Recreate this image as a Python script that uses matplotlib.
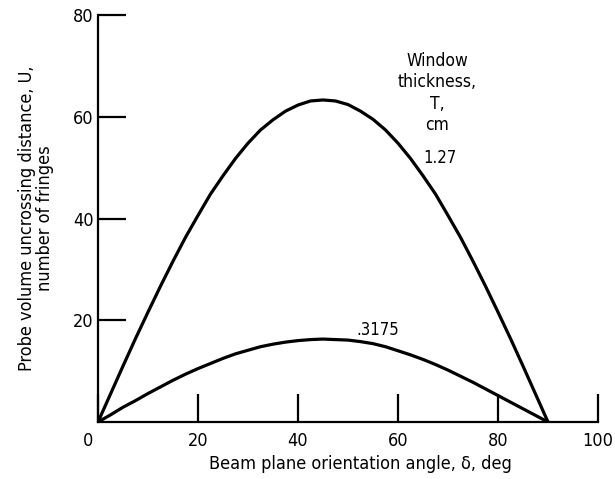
import matplotlib.pyplot as plt
import matplotlib.transforms as mtransforms

# beam plane orientation angle, deg
angle = [0, 2.5, 5, 7.5, 10, 12.5, 15, 17.5, 20, 22.5, 25, 27.5, 30, 32.5, 35, 37.5, 40, 42.5,
         45, 47.5, 50, 52.5, 55, 57.5, 60, 62.5, 65, 67.5, 70, 72.5, 75, 77.5, 80, 82.5, 85, 87.5, 90]
# window thickness 1.27 cm
u_127 = [0, 5.5, 11.0, 16.4, 21.6, 26.7, 31.6, 36.3, 40.6, 44.8, 48.4, 51.8, 54.8, 57.4, 59.4, 61.1, 62.3, 63.1,
         63.3, 63.1, 62.4, 61.1, 59.5, 57.4, 54.8, 51.8, 48.4, 44.8, 40.6, 36.3, 31.6, 26.7, 21.6, 16.4, 11.0, 5.5, 0]
# window thickness .3175 cm
u_3175 = [0, 1.4, 2.9, 4.2, 5.6, 6.9, 8.2, 9.4, 10.5, 11.5, 12.5, 13.4, 14.1, 14.8, 15.3, 15.7, 16.0, 16.2,
          16.3, 16.2, 16.1, 15.8, 15.4, 14.8, 14.0, 13.2, 12.3, 11.3, 10.2, 9.0, 7.8, 6.5, 5.2, 3.9, 2.6, 1.3, 0]

xticks = [0, 20, 40, 60, 80, 100]
yticks = [20, 40, 60, 80]

plt.rcParams['font.family'] = ['DejaVu Sans']
plt.rcParams['font.stretch'] = 'condensed'

fig = plt.figure(figsize=(6.15, 4.79), dpi=100)
ax = fig.add_axes([98/615, 1-422/479, 500/615, 407/479])

ax.plot(angle, u_127, color='black', lw=2.3)
ax.plot(angle, u_3175, color='black', lw=2.3)

ax.set_xlim(0, 100)
ax.set_ylim(0, 80)
ax.set_xticks(xticks)
ax.set_yticks(yticks)
ax.spines['top'].set_visible(False)
ax.spines['right'].set_visible(False)
for s in ['left', 'bottom']:
    ax.spines[s].set_linewidth(1.6)
ax.tick_params(direction='in', length=20, width=1.6, labelsize=13)
ax.tick_params(axis='x', pad=7)
ax.tick_params(axis='y', pad=3)

# the corner "0" sits a little left of the spine
lbl0 = ax.get_xticklabels()[0]
lbl0.set_transform(lbl0.get_transform() + mtransforms.ScaledTranslation(-10/100, 0, fig.dpi_scale_trans))

ax.set_xlabel('Beam plane orientation angle, δ, deg', fontsize=13, labelpad=2)
ax.xaxis.set_label_coords(0.524, -0.08, transform=ax.transAxes)
ax.xaxis.label.set_va('top')
ax.set_ylabel('Probe volume uncrossing distance, U,\nnumber of fringes', fontsize=13,
              labelpad=14, linespacing=1.0)

ax.text(67.8, 72.8, 'Window\nthickness,\nT,\ncm', ha='center', va='top',
        fontsize=12.5, linespacing=1.25)
ax.text(68.4, 51.8, '1.27', ha='center', va='center', fontsize=12)
ax.text(56, 18.0, '.3175', ha='center', va='center', fontsize=12)

fig.savefig('out.png', dpi=100)
